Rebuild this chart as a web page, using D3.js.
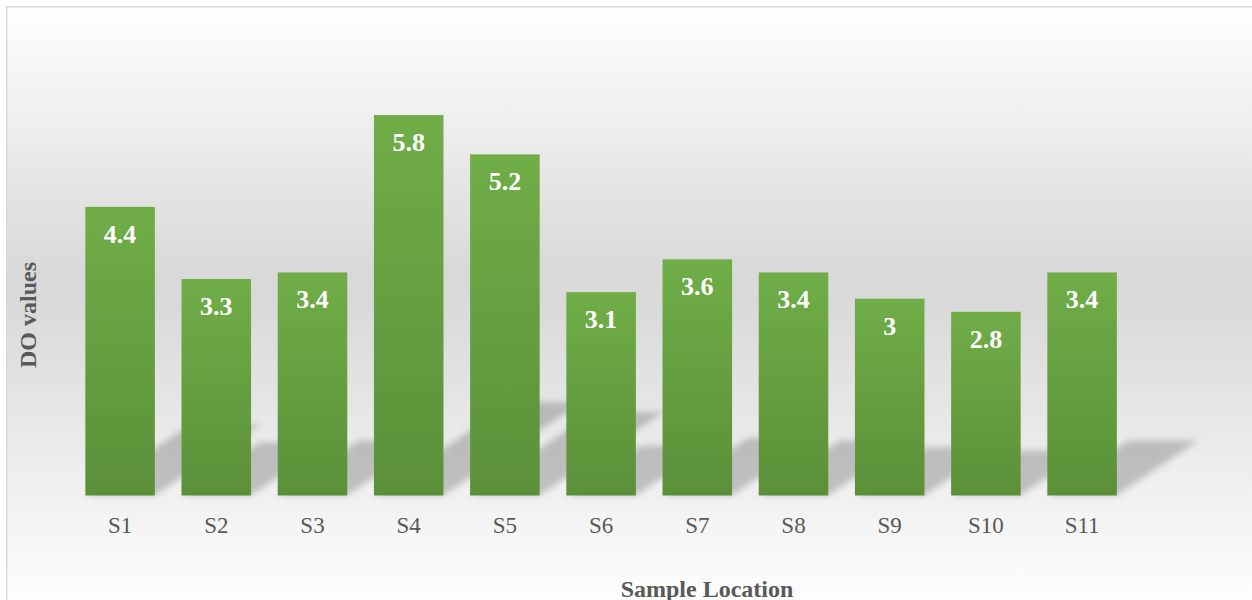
<!DOCTYPE html>
<html>
<head>
<meta charset="utf-8">
<script src="https://cdn.jsdelivr.net/npm/d3@7"></script>
<style>
  html, body { margin: 0; padding: 0; background: #ffffff; }
  svg { display: block; }
</style>
</head>
<body>
<svg id="chart" width="1252" height="600"></svg>
<script>
const categories = ["S1", "S2", "S3", "S4", "S5", "S6", "S7", "S8", "S9", "S10", "S11"];
const doValues = [4.4, 3.3, 3.4, 5.8, 5.2, 3.1, 3.6, 3.4, 3, 2.8, 3.4];
const valueLabels = ["4.4", "3.3", "3.4", "5.8", "5.2", "3.1", "3.6", "3.4", "3", "2.8", "3.4"];
const yAxisTitle = "DO values";
const xAxisTitle = "Sample Location";

const svg = d3.select("#chart");
const defs = svg.append("defs");

// background gradient
const bg = defs.append("linearGradient")
  .attr("id", "bgGrad").attr("gradientUnits", "userSpaceOnUse")
  .attr("x1", 0).attr("y1", 7).attr("x2", 0).attr("y2", 612);
bg.append("stop").attr("offset", "0").attr("stop-color", "#ffffff");
bg.append("stop").attr("offset", "0.43").attr("stop-color", "#d9d9d9");
bg.append("stop").attr("offset", "0.49").attr("stop-color", "#d9d9d9");
bg.append("stop").attr("offset", "1").attr("stop-color", "#ffffff");

// bar gradient
const barGrad = defs.append("linearGradient")
  .attr("id", "barGrad").attr("x1", 0).attr("y1", 0).attr("x2", 0).attr("y2", 1);
barGrad.append("stop").attr("offset", "0").attr("stop-color", "#70ad47");
barGrad.append("stop").attr("offset", "1").attr("stop-color", "#5b9039");

// shadow blur
const blur = defs.append("filter").attr("id", "shadowBlur")
  .attr("x", "-20%").attr("y", "-20%").attr("width", "140%").attr("height", "140%");
blur.append("feGaussianBlur").attr("stdDeviation", 3);

// card
svg.append("rect")
  .attr("x", 6.75).attr("y", 6.75).attr("width", 1300).attr("height", 640)
  .attr("fill", "url(#bgGrad)")
  .attr("stroke", "#d9d9d9").attr("stroke-width", 1.5);

const x = d3.scaleBand()
  .domain(categories)
  .range([72, 72 + 96.2 * 11])
  .paddingInner(0.277)
  .paddingOuter(0.1385);

const y = d3.scaleLinear().domain([0, 7]).range([495.5, 495.5 - 7 * 65.6]);

const data = categories.map((c, i) => ({ cat: c, v: doValues[i], label: valueLabels[i] }));

// perspective shadows
const shadowScale = 0.245, skew = 1.48;
svg.append("g").attr("filter", "url(#shadowBlur)")
  .selectAll("path").data(data).join("path")
  .attr("d", d => {
    const x0 = x(d.cat), x1 = x0 + x.bandwidth();
    const yb = y(0);
    const hs = (y(0) - y(d.v)) * shadowScale;
    const dx = hs * skew;
    return `M${x0},${yb}L${x1},${yb}L${x1 + dx},${yb - hs}L${x0 + dx},${yb - hs}Z`;
  })
  .attr("fill", "#000").attr("fill-opacity", 0.2);

// bars
svg.append("g").selectAll("rect").data(data).join("rect")
  .attr("x", d => x(d.cat))
  .attr("y", d => y(d.v))
  .attr("width", x.bandwidth())
  .attr("height", d => y(0) - y(d.v))
  .attr("fill", "url(#barGrad)");

// value labels
svg.append("g").selectAll("text").data(data).join("text")
  .attr("x", d => x(d.cat) + x.bandwidth() / 2)
  .attr("y", d => y(d.v) + 36)
  .attr("text-anchor", "middle")
  .attr("font-family", "'Liberation Serif', 'Times New Roman', serif")
  .attr("font-weight", "bold")
  .attr("font-size", 26)
  .attr("fill", "#ffffff")
  .text(d => d.label);

// x axis (labels only)
const xAxis = d3.axisBottom(x).tickSize(0).tickPadding(0);
const gx = svg.append("g").attr("transform", `translate(0, ${y(0)})`).call(xAxis);
gx.select(".domain").remove();
gx.selectAll("text")
  .attr("y", 37)
  .attr("dy", 0)
  .attr("font-family", "'Liberation Serif', 'Times New Roman', serif")
  .attr("font-size", 23)
  .attr("fill", "#595959");

// axis titles
svg.append("text")
  .attr("x", 707).attr("y", 597)
  .attr("text-anchor", "middle")
  .attr("font-family", "'Liberation Serif', 'Times New Roman', serif")
  .attr("font-weight", "bold")
  .attr("font-size", 24)
  .attr("fill", "#595959")
  .text(xAxisTitle);

svg.append("text")
  .attr("transform", "translate(36, 315) rotate(-90)")
  .attr("text-anchor", "middle")
  .attr("font-family", "'Liberation Serif', 'Times New Roman', serif")
  .attr("font-weight", "bold")
  .attr("font-size", 24)
  .attr("fill", "#595959")
  .text(yAxisTitle);
</script>
</body>
</html>
